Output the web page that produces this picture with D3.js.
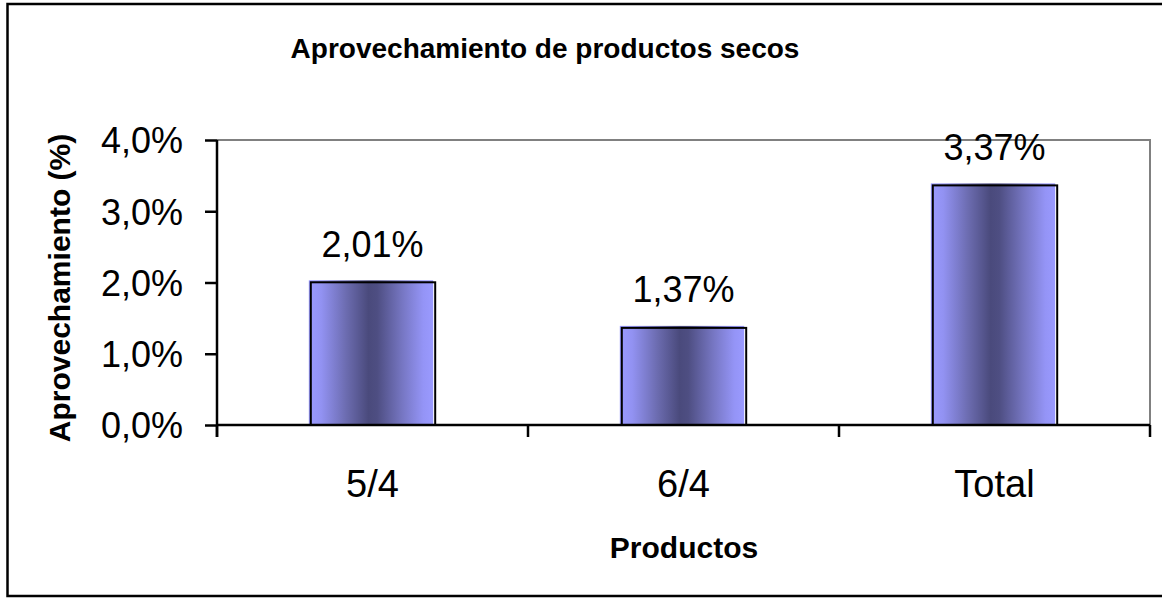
<!DOCTYPE html>
<html><head><meta charset="utf-8">
<script src="https://cdn.jsdelivr.net/npm/d3@7"></script>
<style>body{margin:0;background:#fff}svg{display:block}text{font-family:"Liberation Sans",Arial,sans-serif}</style>
</head><body>
<svg id="c" width="1162" height="598"></svg>
<script>
const categories = ["5/4", "6/4", "Total"];
const values = [0.0201, 0.0137, 0.0337];
const valueLabels = ["2,01%", "1,37%", "3,37%"];
const yTicks = [0, 0.01, 0.02, 0.03, 0.04];
const yTickLabels = ["0,0%", "1,0%", "2,0%", "3,0%", "4,0%"];
const title = "Aprovechamiento de productos secos";
const xTitle = "Productos";
const yTitle = "Aprovechamiento (%)";

const svg = d3.select("#c");
const L = 217, R = 1150, T = 140, B = 425;

// outer frame
svg.append("path").attr("d", "M1162,4 H7.5 V596 H1162")
  .attr("fill", "none").attr("stroke", "#000").attr("stroke-width", 2.5);

const x = d3.scaleBand().domain(categories).range([L, R]).paddingInner(0.6).paddingOuter(0.3);
const xb = d3.scaleBand().domain(categories).range([L, R]);
const y = d3.scaleLinear().domain([0, 0.04]).range([B, T]);

// gradient
const defs = svg.append("defs");
const g = defs.append("linearGradient").attr("id", "bg").attr("x1", "0").attr("x2", "1").attr("y1", "0").attr("y2", "0");
[[0, "#9a9aff"], [0.1, "#9292f2"], [0.3, "#6c6cb0"], [0.48, "#4a4a7c"], [0.55, "#4e4e82"], [0.75, "#7676c2"], [0.92, "#9494f6"], [1, "#9a9aff"]]
  .forEach(([o, c]) => g.append("stop").attr("offset", o).attr("stop-color", c));

// plot area border (gray top and right)
svg.append("path").attr("d", `M${L},${T} H${R} V${B}`).attr("fill", "none").attr("stroke", "#808080").attr("stroke-width", 2);

// bars
categories.forEach((c, i) => {
  const x0 = x(c), w = x.bandwidth(), y0 = y(values[i]);
  svg.append("rect").attr("x", x0 - 1.5).attr("y", y0 - 1.5).attr("width", w).attr("height", B - y0 + 1.5).attr("fill", "url(#bg)");
  svg.append("rect").attr("x", x0 + 0.5).attr("y", y0 + 0.5).attr("width", w).attr("height", B - y0 - 0.5)
    .attr("fill", "none").attr("stroke", "#000").attr("stroke-width", 2);
  svg.append("text").attr("x", x0 + w / 2).attr("y", y0 - 25).attr("text-anchor", "middle")
    .attr("font-size", 36).attr("fill", "#000").text(valueLabels[i]);
});

// y axis
const ya = d3.axisLeft(y).tickValues(yTicks).tickSize(12).tickFormat((d, i) => yTickLabels[i]).tickPadding(22);
const yg = svg.append("g").attr("transform", `translate(${L},0)`).call(ya);
yg.select(".domain").attr("stroke", "#000").attr("stroke-width", 2.5).attr("d", `M0,${T}V${B + 12}`);
yg.selectAll(".tick line").attr("stroke", "#000").attr("stroke-width", 2.5);
yg.selectAll(".tick text").attr("font-size", 36).attr("font-family", "Liberation Sans, Arial, sans-serif").attr("fill", "#000").attr("dy", "0.36em");

// x axis
const xa = d3.axisBottom(xb).tickSize(0).tickPadding(0).tickFormat(d => d);
const xg = svg.append("g").attr("transform", `translate(0,${B})`).call(xa);
xg.select(".domain").attr("stroke", "#000").attr("stroke-width", 2.5).attr("d", `M${L},0H${R}`);
xg.selectAll(".tick text").attr("font-size", 38).attr("font-family", "Liberation Sans, Arial, sans-serif").attr("fill", "#000").attr("y", 72).attr("dy", 0);
// category separators
const seps = [...categories.map(c => xb(c)), R];
xg.selectAll(".sep").data(seps).enter().append("line").attr("class", "sep")
  .attr("x1", d => d).attr("x2", d => d).attr("y1", 0).attr("y2", 12).attr("stroke", "#000").attr("stroke-width", 2.5);

// titles
svg.append("text").attr("x", 545).attr("y", 58).attr("text-anchor", "middle").attr("font-size", 28).attr("font-weight", "bold").text(title);
svg.append("text").attr("x", 684).attr("y", 558).attr("text-anchor", "middle").attr("font-size", 30).attr("font-weight", "bold").text(xTitle);
svg.append("text").attr("transform", "translate(70,288) rotate(-90)").attr("text-anchor", "middle").attr("font-size", 30).attr("font-weight", "bold").text(yTitle);
</script>
</body></html>
